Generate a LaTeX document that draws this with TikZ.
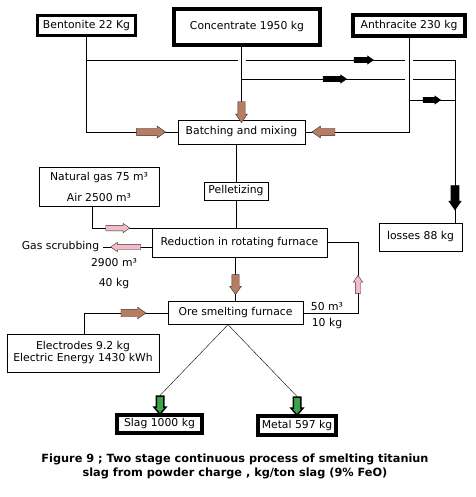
\documentclass[tikz,border=0pt]{standalone}
\usepackage{fontspec}
\setmainfont{DejaVu Sans}
\usetikzlibrary{shapes.arrows,calc}
\definecolor{brownfill}{RGB}{183,124,98}
\definecolor{pinkfill}{RGB}{244,188,200}
\definecolor{greenfill}{RGB}{58,163,76}

\begin{document}
\begin{tikzpicture}[
    x=1pt, y=-1pt,
    font=\fontsize{10.8}{12}\selectfont,
    box/.style={rectangle, draw, line width=0.8pt, inner sep=0pt, align=center},
    heavy/.style={box, line width=3.5pt},
    conn/.style={line width=0.8pt},
    feed/.style={line width=0.4pt},
    brownarrow/.style={single arrow, draw=black!80, fill=brownfill, line width=0.4pt, inner sep=3.5pt, minimum height=#1, single arrow head extend=2.2pt, single arrow tip angle=70},
    pinkarrow/.style={single arrow, draw=black!80, fill=pinkfill, line width=0.4pt, inner sep=2.5pt, minimum height=#1, single arrow head extend=2pt, single arrow tip angle=70},
    blackarrow/.style={single arrow, draw, fill=black, inner sep=2pt, minimum height=#1, single arrow head extend=1.4pt, single arrow tip angle=70},
    greenarrow/.style={single arrow, draw, fill=greenfill, line width=1.5pt, inner sep=3pt, minimum height=18pt, single arrow head extend=2.3pt, single arrow tip angle=80},
    toR/.style={shape border rotate=0},
    toL/.style={shape border rotate=180},
    toU/.style={shape border rotate=90},
    toD/.style={shape border rotate=270}
]
\useasboundingbox (0,0) rectangle (475,497);

% Raw materials
\node[heavy, minimum width=98pt, minimum height=20pt] (bent) at (86.5,25.3) {Bentonite 22 Kg};
\node[heavy, minimum width=146pt, minimum height=36pt] (conc) at (247,27) {Concentrate 1950 kg};
\node[heavy, minimum width=112pt, minimum height=21pt] (anth) at (409,25.5) {Anthracite 230 kg};

% Process steps
\node[box, minimum width=127pt, minimum height=24pt] (bat) at (241.5,132) {Batching and mixing};
\node[box, minimum width=64pt, minimum height=18pt] (pel) at (236,191) {Pelletizing};
\node[box, minimum width=175pt, minimum height=28.5pt] (red) at (239.5,242.75) {Reduction in rotating furnace};
\node[box, minimum width=135pt, minimum height=22.5pt] (ore) at (235.5,313) {Ore smelting furnace};

% Side inputs and outputs
\node[box, minimum width=120pt, minimum height=39pt] (gas) at (99,186.5) {Natural gas 75 m³\\[9pt]Air 2500 m³};
\node[box, minimum width=152pt, minimum height=38pt] (elec) at (83,353) {Electrodes 9.2 kg\\Electric Energy 1430 kWh};
\node[box, minimum width=83pt, minimum height=28pt] (loss) at (420.5,237) {losses 88 kg};
\node (scrub) at (60.5,247) {Gas scrubbing};
\node (scrubv) at (114,263) {2900 m³};
\node (scrubm) at (114,284) {40 kg};
\node (retv) at (327,307) {50 m³};
\node (retm) at (327,324) {10 kg};

% Products
\node[heavy, minimum width=85pt, minimum height=18pt] (slag) at (159.5,424) {Slag 1000 kg};
\node[heavy, minimum width=78pt, minimum height=19pt] (metal) at (297,425.5) {Metal 597 kg};
\node[greenarrow, toD] (slagarrow) at (160,403) {};
\node[greenarrow, toD] (metalarrow) at (297,404) {};

% Helper coordinates
\coordinate (row1) at (0,60);
\coordinate (row2) at (0,79);
\coordinate (row3) at (0,100);
\coordinate (rail) at (455,60);
\coordinate (ret) at (358,0);
\coordinate (hopA) at (bat.north |- row1);
\coordinate (hopB) at (anth.south |- row1);
\coordinate (hopC) at (anth.south |- row2);

% Arrows into batching
\draw[conn] (bent.south) |- node[brownarrow=29pt, toR, pos=0.84] {} (bat.west);
\draw[conn] (conc.south -| bat.north) -- node[brownarrow=21pt, toD, pos=0.86] {} (bat.north);
\draw[conn] (anth.south) |- node[brownarrow=23pt, toL, pos=0.9] {} (bat.east);

% Losses
\draw[conn] (bent.south |- row1) -- ([xshift=-4pt]hopA) ([xshift=4pt]hopA) -- node[blackarrow=19pt, toR, pos=0.73] {} ([xshift=-4pt]hopB) ([xshift=4pt]hopB) -- (rail) -- node[blackarrow=24pt, toD, inner sep=3.5pt, single arrow head extend=2pt, pos=0.83] {} (rail |- loss.north);
\draw[conn] (hopA |- row2) -- node[blackarrow=23pt, toR, pos=0.56] {} ([xshift=-4pt]hopC) ([xshift=4pt]hopC) -- (rail |- row2);
\draw[conn] (anth.south |- row3) -- node[blackarrow=17pt, toR, pos=0.46] {} (rail |- row3);

% Main line
\draw[conn] (bat.south -| pel.north) -- (pel.north);
\draw[conn] (pel.south) -- (pel.south |- red.north);
\draw[conn] ([xshift=-7pt]gas.south) |- node[pinkarrow=24pt, toR, pos=0.7] {} (red.north west);
\draw[conn] (scrub.east -| red.west) -- node[pinkarrow=30pt, toL, pos=0.49] {} (scrub.east);
\draw[conn] (red.south -| ore.north) -- node[brownarrow=20pt, toD, pos=0.56] {} (ore.north);
\draw[conn] (ore.east) -| node[pinkarrow=18pt, toU, pos=0.69] {} (ret |- red.east) -- (red.east);
\draw[conn] ([xshift=1pt]elec.north) |- node[brownarrow=25pt, toR, pos=0.78] {} (ore.west);

% Products
\draw[feed] ([xshift=-7.5pt]ore.south) -- (slagarrow.tail);
\draw[feed] ([xshift=-7.5pt]ore.south) -- (metalarrow.tail);

% Caption
\node[font=\fontsize{11.3}{14}\selectfont\bfseries, align=center] (caption) at (235,466) {Figure 9 ; Two stage continuous process of smelting titaniun\\slag from powder charge , kg/ton slag (9\% FeO)};

\end{tikzpicture}
\end{document}
